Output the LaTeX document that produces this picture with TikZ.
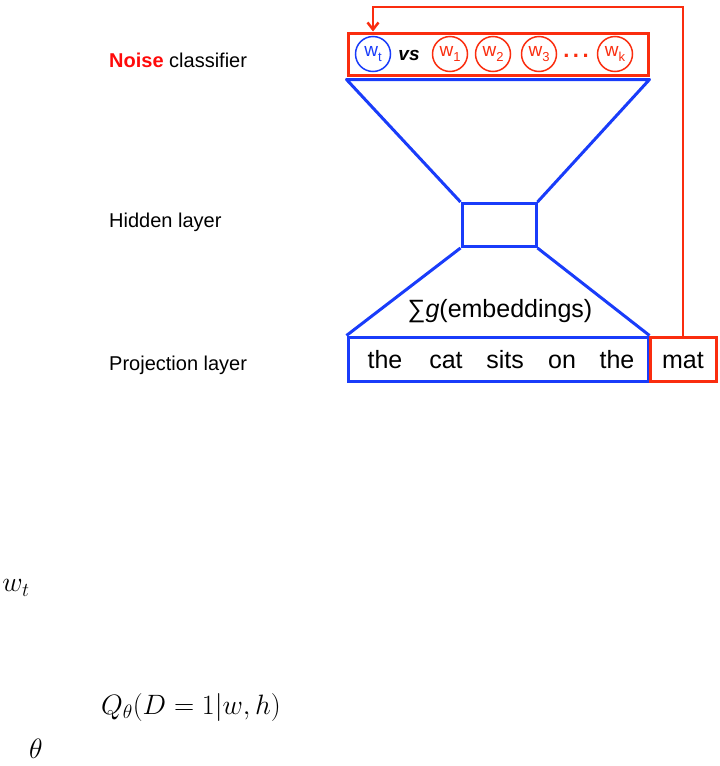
\RequirePackage{fix-cm}
\documentclass[tikz,border=0pt]{standalone}
\usepackage{fontspec}
\setmainfont{Liberation Sans}
\usetikzlibrary{arrows.meta}
\definecolor{lred}{RGB}{250,45,15}
\definecolor{lblue}{RGB}{25,60,250}
\definecolor{nred}{RGB}{255,10,10}
\newcommand{\wsub}[1]{w\raisebox{-5pt}{\fontsize{13}{13}\selectfont #1}}
\begin{document}
\begin{tikzpicture}[x=1pt,y=-1pt,
  redbox/.style={draw=lred,line width=3pt,inner sep=0pt},
  bluebox/.style={draw=lblue,line width=3pt,inner sep=0pt},
  bluel/.style={draw=lblue,line width=3pt},
  wc/.style={circle,draw=lred,line width=1.5pt,minimum size=35pt,inner sep=0pt,text=lred,font=\fontsize{19}{19}\selectfont},
  lab/.style={anchor=base west,inner sep=0pt,font=\fontsize{20}{24}\selectfont},
  word/.style={anchor=base,inner sep=0pt,font=\fontsize{25}{30}\selectfont},
  mth/.style={inner sep=0pt,font=\fontsize{28}{34}\selectfont}]
\useasboundingbox (0,0) rectangle (720,766);

% left labels
\node[lab] (lnoise) at (109,67) {{\color{nred}\bfseries Noise} classifier};
\node[lab] (lhid) at (109,227) {Hidden layer};
\node[lab] (lproj) at (109,370) {Projection layer};

% noise classifier box
\node[redbox,minimum width=300pt,minimum height=42pt] (noise) at (498,54) {};
\node[wc,draw=lblue,text=lblue] (wt) at (373,54) {\wsub{t}};
\node[anchor=base,inner sep=0pt,font=\fontsize{19}{19}\selectfont\bfseries\itshape] (vs) at (409,60) {vs};
\node[wc] (w1) at (450,54) {\wsub{1}};
\node[wc] (w2) at (493,54) {\wsub{2}};
\node[wc] (w3) at (539,54) {\wsub{3}};
\node[anchor=base,inner sep=0pt,text=lred,font=\fontsize{22}{22}\selectfont\bfseries] (dots) at (576,57) {.\hspace{3.5pt}.\hspace{3.5pt}.};
\node[wc] (wk) at (615,54) {\wsub{k}};

% hidden layer
\node[bluebox,minimum width=74pt,minimum height=43pt] (hid) at (499,225) {};
% projection layer
\node[bluebox,minimum width=300pt,minimum height=44pt] (proj) at (498,359) {};
\node[redbox,minimum width=66pt,minimum height=44pt] (mat) at (683,359) {};

\coordinate (tl) at ([yshift=-3pt]noise.south west);
\coordinate (tr) at ([yshift=-3pt]noise.south east);
\draw[bluel,line join=round] (hid.north west) -- (tl) -- (tr) -- (hid.north east);
\draw[bluel] (hid.south west) -- (proj.north west);
\draw[bluel] (hid.south east) -- (proj.north east);

\node[word] (sum) at (500,317) {∑\textit{g}(embeddings)};
\node[word] (p1) at (385,368) {the};
\node[word] (p2) at (446,368) {cat};
\node[word] (p3) at (505,368) {sits};
\node[word] (p4) at (562,368) {on};
\node[word] (p5) at (617,368) {the};
\node[word] (pm) at (683,368) {mat};

% feedback arrow
\coordinate (turn) at (373,7);
\draw[draw=lred,line width=2.5pt,-{Straight Barb[length=7pt,width=11pt]}]
  (mat.north) |- (turn) -- (wt |- noise.north);

% math below
\node[mth] (mwt) at (16,588) {$w_t$};
\node[mth] (mq) at (191,707) {$Q_\theta(D=1|w,h)$};
\node[mth] (mth) at (36,749) {$\theta$};
\end{tikzpicture}
\end{document}
